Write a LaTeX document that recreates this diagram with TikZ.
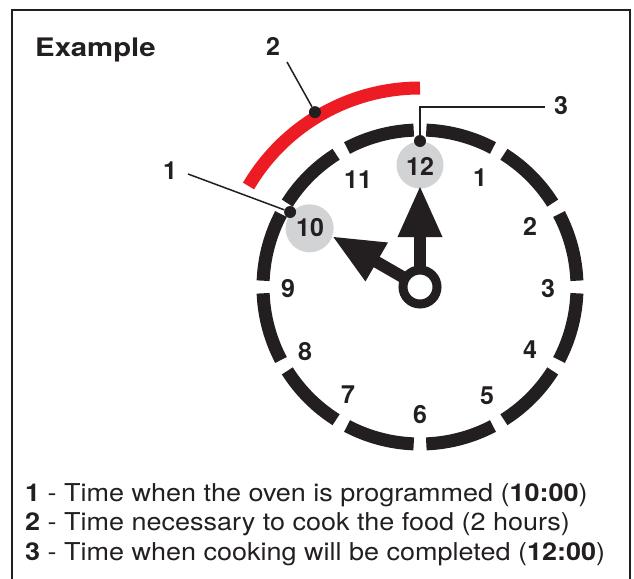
\documentclass[tikz,border=0pt]{standalone}
\usepackage{fontspec}
\setmainfont{TeX Gyre Heros}
\definecolor{ink}{RGB}{35,31,32}
\definecolor{redarc}{RGB}{237,28,36}
\definecolor{graydot}{RGB}{209,211,212}
\tikzset{
  num/.style={font=\fontsize{25}{30}\selectfont\bfseries, text=ink, inner sep=0pt},
  legend/.style={font=\fontsize{24.6}{30}\selectfont, text=ink, inner sep=0pt, anchor=base west},
  callout/.style={draw=ink, line width=1.5pt},
  dotmark/.style={circle, fill=ink, inner sep=0pt, minimum size=12pt},
  ringseg/.style={draw=ink, line width=13},
  handfill/.style={fill=ink},
}
\newcommand{\wide}[1]{\scalebox{1.097}[1]{#1}}
\begin{document}
\begin{tikzpicture}[x=1pt,y=-1pt]
\useasboundingbox (0,0) rectangle (634,578);
\fill[white] (0,0) rectangle (634,578);
\draw[ink, line width=2pt] (12,600) -- (12,10) -- (630,10) -- (630,600);
\node[font=\fontsize{25.5}{30}\selectfont\bfseries, text=ink, inner sep=0pt, anchor=base west] (title) at (35,56.5) {\scalebox{1.15}[1]{Example}};

\begin{scope}[shift={(420,287)}, y=1pt]
  % gray highlight circles
  \fill[graydot] (90:122) circle[radius=23.5];
  \fill[graydot] (152:125) circle[radius=24];
  % dial ring
  \foreach \h in {0,...,11}
    \draw[ringseg] (\h*30+2.3:157) arc[start angle=\h*30+2.3, end angle=\h*30+27.7, radius=157];
  % red arc
  \draw[redarc, line width=13] (90:199) arc[start angle=90, end angle=149.5, radius=199];
  % minute hand
  \fill[handfill] (-6,0) rectangle (6,51);
  \fill[handfill] (-22.5,50) -- (22.5,50) -- (0,100) -- cycle;
  % hour hand
  \begin{scope}[rotate=60]
    \fill[handfill] (-6,0) rectangle (6,51);
    \fill[handfill] (-22.5,50) -- (22.5,50) -- (0,100) -- cycle;
  \end{scope}
  % hub
  \draw[ink, line width=9, fill=white] (0,0) circle[radius=17];
  % callout dots
  \node[dotmark] (d3) at (90:146) {};
  \node[dotmark] (d1) at (150:150) {};
  \node[dotmark] (d2) at (121:204) {};
\end{scope}

% dial numbers
\node[num] (h12) at (420,166) {12};
\node[num] (h1) at (480,178) {1};
\node[num] (h2) at (530,226) {2};
\node[num] (h3) at (548,289) {3};
\node[num] (h4) at (530,350) {4};
\node[num] (h5) at (487,396) {5};
\node[num] (h6) at (420,415) {6};
\node[num] (h7) at (348,395) {7};
\node[num] (h8) at (305,352) {8};
\node[num] (h9) at (288,289) {9};
\node[num] (h10) at (310,228) {10};
\node[num] (h11) at (358,180) {11};

% callout labels
\node[num] (L1) at (170,171) {1};
\node[num] (L2) at (273,46) {2};
\node[num] (L3) at (561,106) {3};
\coordinate (c1) at (188,174);
\coordinate (c2) at (287,62);
\coordinate (c3) at (545,107);
\draw[callout] (c1) -- (d1);
\draw[callout] (c2) -- (d2);
\draw[callout] (c3) -| (d3);

% legend
\node[legend] (t1) at (25,501) {\wide{\textbf{1} - Time when the oven is programmed (\textbf{10:00})}};
\node[legend] (t2) at (25,530.5) {\wide{\textbf{2} - Time necessary to cook the food (2 hours)}};
\node[legend] (t3) at (25,560) {\wide{\textbf{3} - Time when cooking will be completed (\textbf{12:00})}};
\end{tikzpicture}
\end{document}
